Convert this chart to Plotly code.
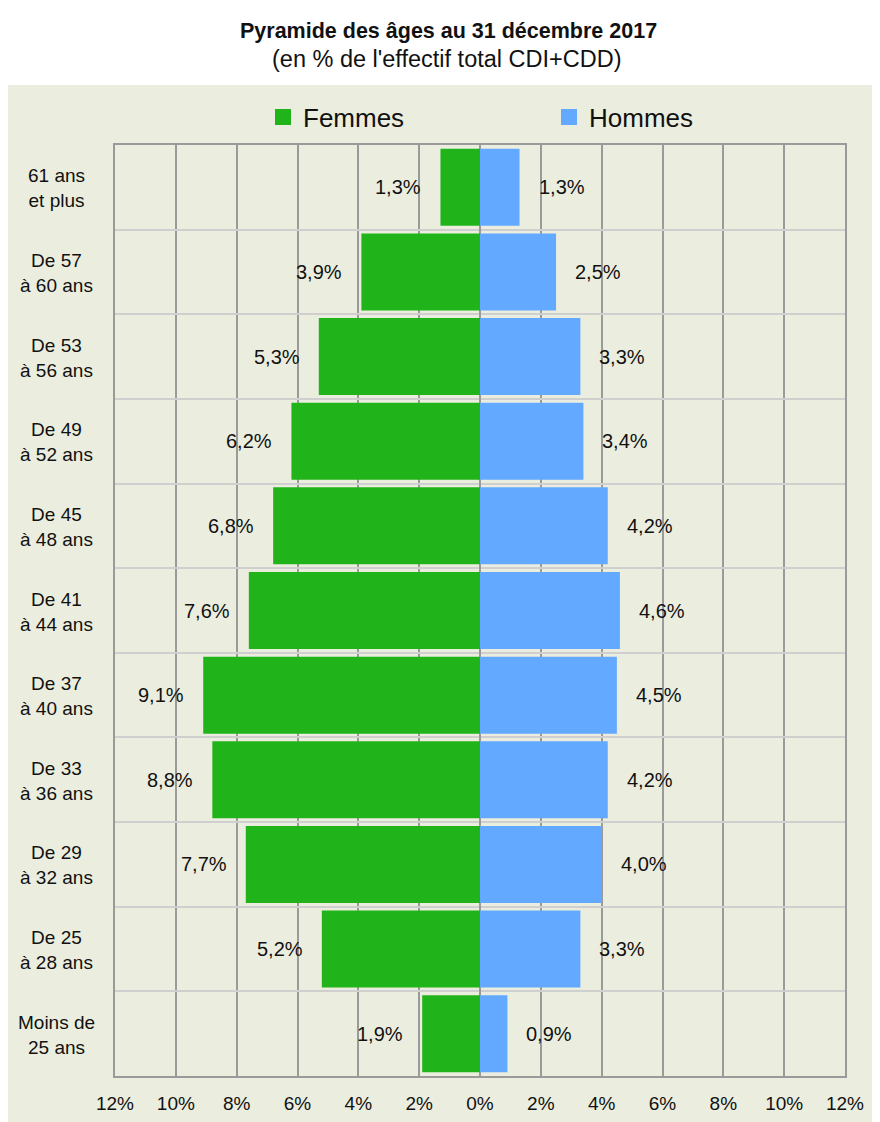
import plotly.graph_objects as go

categories = ["Moins de<br>25 ans", "De 25<br>à 28 ans", "De 29<br>à 32 ans", "De 33<br>à 36 ans",
              "De 37<br>à 40 ans", "De 41<br>à 44 ans", "De 45<br>à 48 ans", "De 49<br>à 52 ans",
              "De 53<br>à 56 ans", "De 57<br>à 60 ans", "61 ans<br>et plus"]
femmes = [1.9, 5.2, 7.7, 8.8, 9.1, 7.6, 6.8, 6.2, 5.3, 3.9, 1.3]
hommes = [0.9, 3.3, 4.0, 4.2, 4.5, 4.6, 4.2, 3.4, 3.3, 2.5, 1.3]
tick_vals = [-12, -10, -8, -6, -4, -2, 0, 2, 4, 6, 8, 10, 12]
tick_text = ["12%", "10%", "8%", "6%", "4%", "2%", "0%", "2%", "4%", "6%", "8%", "10%", "12%"]

REG = "Liberation Sans, Arial, sans-serif"
GREEN = "#21B41A"
BLUE = "#63A9FF"
TXT = "#111111"

# figure is placed inside the page body (8px margin), so dimensions compensate
W, H = 872, 1114
ML, MR, MT, MB = 107, 35, 137, 46
PW, PH = W - ML - MR, H - MT - MB

fig = go.Figure()
fig.add_trace(go.Bar(y=categories, x=[-v for v in femmes], orientation="h", name="Femmes",
                     marker=dict(color=GREEN, line=dict(width=0)), hoverinfo="skip", showlegend=False))
fig.add_trace(go.Bar(y=categories, x=hommes, orientation="h", name="Hommes",
                     marker=dict(color=BLUE, line=dict(width=0)), hoverinfo="skip", showlegend=False))
# legend entries with larger square swatches
for name, col in [("Femmes", GREEN), ("Hommes", BLUE)]:
    fig.add_trace(go.Scatter(x=[None], y=[None], mode="markers", name=name,
                             marker=dict(symbol="square", size=17, color=col), showlegend=True))

annotations = []
for c, f, h in zip(categories, femmes, hommes):
    annotations.append(dict(x=-f, y=c, xref="x", yref="y", text=f"{f:.1f}%".replace(".", ","),
                            showarrow=False, xanchor="right", xshift=-17,
                            font=dict(family=REG, size=20, color=TXT)))
    annotations.append(dict(x=h, y=c, xref="x", yref="y", text=f"{h:.1f}%".replace(".", ","),
                            showarrow=False, xanchor="left", xshift=17,
                            font=dict(family=REG, size=20, color=TXT)))
    annotations.append(dict(x=(48 - ML) / PW, y=c, xref="paper", yref="y", text=c, align="center",
                            showarrow=False, xanchor="center", yshift=-1,
                            font=dict(family=REG, size=19, color=TXT)))

annotations.append(dict(x=(440 - ML) / PW, y=1 + (MT - 23) / PH, xref="paper", yref="paper",
                        text="<b>Pyramide des âges au 31 décembre 2017</b>", yanchor="middle",
                        showarrow=False, font=dict(family=REG, size=21.5, color=TXT)))
annotations.append(dict(x=(439 - ML) / PW, y=1 + (MT - 51) / PH, xref="paper", yref="paper",
                        text="(en % de l'effectif total CDI+CDD)", yanchor="middle",
                        showarrow=False, font=dict(family=REG, size=23.5, color=TXT)))

fig.update_layout(
    width=W, height=H,
    margin=dict(l=ML, r=MR, t=MT, b=MB, pad=0, autoexpand=False),
    paper_bgcolor="white", plot_bgcolor="white",
    barmode="relative", bargap=0.09,
    showlegend=True,
    legend=dict(orientation="h", x=(255 - ML) / PW, xanchor="left", y=1 + (MT - 109) / PH, yanchor="middle",
                font=dict(family=REG, size=26, color=TXT), bgcolor="rgba(0,0,0,0)",
                entrywidth=241, entrywidthmode="pixels", itemclick=False, itemdoubleclick=False),
    xaxis=dict(range=[-12, 12], tickvals=tick_vals, ticktext=tick_text, showgrid=True,
               gridcolor="#9a9a9a", gridwidth=1.5, zeroline=True, zerolinecolor="#9a9a9a", zerolinewidth=1.5,
               showline=True, linecolor="#9a9a9a", linewidth=1.5, mirror=True, automargin=False,
               ticks="outside", ticklen=9, tickcolor="rgba(0,0,0,0)",
               tickfont=dict(family=REG, size=19, color=TXT), fixedrange=True),
    yaxis=dict(categoryorder="array", categoryarray=categories, tickson="boundaries", automargin=False,
               showgrid=True, gridcolor="#cfcfcf", gridwidth=1.5, showticklabels=False, ticks="",
               showline=True, linecolor="#9a9a9a", linewidth=1.5, mirror=True, fixedrange=True),
    shapes=[dict(type="rect", xref="paper", yref="paper", x0=-ML / PW - 0.01, x1=1 + MR / PW + 0.01,
                 y0=-MB / PH - 0.01, y1=1 + (MT - 77) / PH,
                 fillcolor="#EBEEDF", line=dict(width=0), layer="below")],
    annotations=annotations,
)

fig.write_html("out.html")
